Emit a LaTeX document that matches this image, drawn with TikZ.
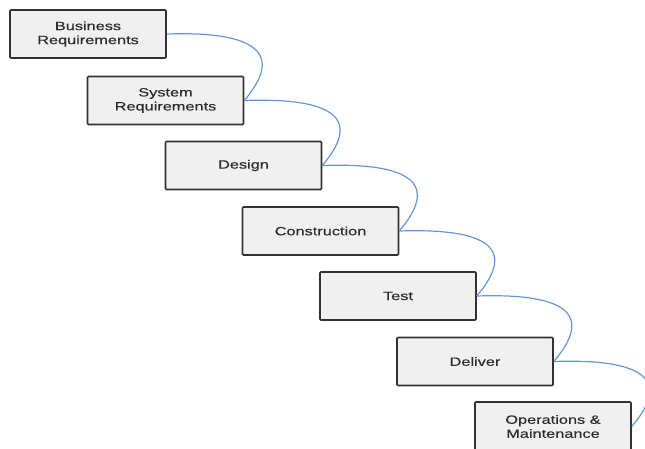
\documentclass[tikz,border=0pt]{standalone}
\usepackage{fontspec}
\setmainfont{Liberation Sans}[FakeStretch=1.36,FakeBold=0.4]
\definecolor{boxfill}{RGB}{240,240,240}
\definecolor{boxline}{RGB}{50,50,50}
\definecolor{txt}{RGB}{45,45,45}
\definecolor{conn}{RGB}{100,150,220}
\begin{document}
\begin{tikzpicture}[x=1pt,y=-1pt,
  stagebox/.style={draw=boxline, line width=1.6pt, fill=boxfill, minimum width=156pt, minimum height=48pt,
    inner sep=0pt, align=center, text=txt, font=\fontsize{12}{14}\selectfont, rounded corners=1pt},
  link/.style={draw=conn, line width=1.2pt}]
\useasboundingbox (0,0) rectangle (645,449);
\clip (0,0) rectangle (645,449);
\node[stagebox] (b1) at (88,34) {Business\\Requirements};
\node[stagebox] (b2) at (165.5,100.5) {System\\Requirements};
\node[stagebox] (b3) at (243.5,165.5) {Design};
\node[stagebox] (b4) at (320.5,231) {Construction};
\node[stagebox] (b5) at (398,296) {Test};
\node[stagebox] (b6) at (475,361.5) {Deliver};
\node[stagebox, minimum height=49pt] (b7) at (553,426.5) {Operations \&\\Maintenance};
\foreach \a/\b in {b1/b2,b2/b3,b3/b4,b4/b5,b5/b6,b6/b7}{
  \draw[link] (\a.east) .. controls +(90,-3) and +(40,-47) .. (\b.east);
}
\end{tikzpicture}
\end{document}
